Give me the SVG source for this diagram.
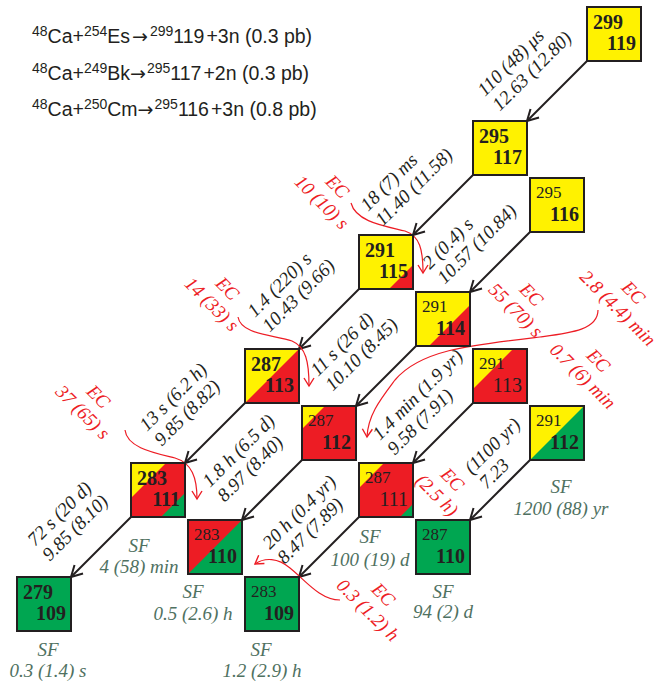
<svg xmlns="http://www.w3.org/2000/svg" width="659" height="683" viewBox="0 0 659 683">
<style>
.bx{stroke:#231f20;stroke-width:2;fill:none}
.y{fill:#fff200}.r{fill:#ed1c24}.g{fill:#00a651}
.nb{font-family:"Liberation Serif","Times New Roman",serif;font-weight:bold;font-size:20px;fill:#231f20}
.nn{font-family:"Liberation Serif","Times New Roman",serif;font-size:17px;fill:#231f20}
.nn2{font-family:"Liberation Serif","Times New Roman",serif;font-size:20px;fill:#231f20}
.al{stroke:#231f20;stroke-width:2;fill:none;marker-end:url(#ah)}
.ec{stroke:#ed1c24;stroke-width:1.2;fill:none;marker-end:url(#ahr)}
.lab{font-family:"Liberation Serif","Times New Roman",serif;font-style:italic;font-size:19px;fill:#231f20}
.ecl{font-family:"Liberation Serif","Times New Roman",serif;font-style:italic;font-size:19px;fill:#ed1c24;text-anchor:middle}
.sf{font-family:"Liberation Serif","Times New Roman",serif;font-style:italic;font-size:19px;fill:#4f7161;text-anchor:middle}
.rx{font-family:"Liberation Sans",Arial,sans-serif;font-size:19.5px;fill:#231f20}
.sp{font-size:14px}
.ar{font-family:"DejaVu Sans",sans-serif;font-size:19px}
</style>
<defs>
<marker id="ah" markerUnits="userSpaceOnUse" markerWidth="16" markerHeight="16" refX="12" refY="7" orient="auto" overflow="visible">
<path d="M1,1 L12,7 L1,13" fill="none" stroke="#231f20" stroke-width="2"/>
</marker>
<marker id="ahr" markerUnits="userSpaceOnUse" markerWidth="12" markerHeight="12" refX="9" refY="5" orient="auto" overflow="visible">
<path d="M1,0 L9,5 L1,10" fill="none" stroke="#ed1c24" stroke-width="1.4"/>
</marker>
</defs>

<g id="reactions" class="rx">
<text x="32" y="43"><tspan class="sp" dy="-7">48</tspan><tspan dy="7">Ca+</tspan><tspan class="sp" dy="-7">254</tspan><tspan dy="7">Es</tspan><tspan class="ar" dx="2">→</tspan><tspan class="sp" dx="2" dy="-7">299</tspan><tspan dy="7">119</tspan><tspan dx="2">+3n (0.3 pb)</tspan></text>
<text x="32" y="80"><tspan class="sp" dy="-7">48</tspan><tspan dy="7">Ca+</tspan><tspan class="sp" dy="-7">249</tspan><tspan dy="7">Bk</tspan><tspan class="ar">→</tspan><tspan class="sp" dx="1" dy="-7">295</tspan><tspan dy="7">117</tspan><tspan dx="2">+2n (0.3 pb)</tspan></text>
<text x="32" y="116"><tspan class="sp" dy="-7">48</tspan><tspan dy="7">Ca+</tspan><tspan class="sp" dy="-7">250</tspan><tspan dy="7">Cm</tspan><tspan class="ar">→</tspan><tspan class="sp" dx="1" dy="-7">295</tspan><tspan dy="7">116</tspan><tspan dx="2">+3n (0.8 pb)</tspan></text>
</g>

<g id="connectors">
<path class="al" d="M587,61 L527,121"/>
<path class="al" d="M473,175 L413,235"/>
<path class="al" d="M359,289 L299,349"/>
<path class="al" d="M245,403 L185,463"/>
<path class="al" d="M131,517 L71,577"/>
<path class="al" d="M530,232 L470,292"/>
<path class="al" d="M416,346 L356,406"/>
<path class="al" d="M302,460 L242,520"/>
<path class="al" d="M473,403 L413,463"/>
<path class="al" d="M359,517 L299,577"/>
<path class="al" d="M530,460 L470,520"/>
<path class="ec" d="M351,203 C356,222 385,226 405,231 C420,236 423,250 423,273"/>
<path class="ec" d="M238,317 C241,335 275,335 292,341 C306,347 309,362 309,386"/>
<path class="ec" d="M125,430 C127,448 155,453 175,458 C192,463 197,478 197,499"/>
<path class="ec" d="M598,310 C598,330 570,333 540,337 C470,345 420,350 395,380 C380,400 368,415 367,437"/>
<path class="ec" d="M340,600 C320,600 305,580 290,568 C278,558 265,557 255,564"/>
</g>

<g id="n299-119">
<rect class="y" x="587" y="7" width="54" height="54"/>
<rect class="bx" x="587" y="7" width="54" height="54"/>
<text class="nb" x="593" y="29">299</text>
<text class="nb" x="636" y="50" text-anchor="end">119</text>
</g>
<g id="n295-117">
<rect class="y" x="473" y="121" width="54" height="54"/>
<rect class="bx" x="473" y="121" width="54" height="54"/>
<text class="nb" x="479" y="143">295</text>
<text class="nb" x="522" y="164" text-anchor="end">117</text>
</g>
<g id="n295-116">
<rect class="y" x="530" y="178" width="54" height="54"/>
<rect class="bx" x="530" y="178" width="54" height="54"/>
<text class="nn" x="536" y="198">295</text>
<text class="nb" x="579" y="221" text-anchor="end">116</text>
</g>
<g id="n291-115">
<rect class="y" x="359" y="235" width="54" height="54"/>
<polygon class="r" points="389,289 413,289 413,265"/>
<rect class="bx" x="359" y="235" width="54" height="54"/>
<text class="nb" x="365" y="257">291</text>
<text class="nb" x="408" y="278" text-anchor="end">115</text>
</g>
<g id="n291-114">
<rect class="y" x="416" y="292" width="54" height="54"/>
<polygon class="r" points="429,346 470,346 470,305"/>
<rect class="bx" x="416" y="292" width="54" height="54"/>
<text class="nn" x="422" y="312">291</text>
<text class="nb" x="465" y="335" text-anchor="end">114</text>
</g>
<g id="n287-113">
<rect class="y" x="245" y="349" width="54" height="54"/>
<polygon class="r" points="245,403 299,403 299,349"/>
<rect class="bx" x="245" y="349" width="54" height="54"/>
<text class="nb" x="251" y="371">287</text>
<text class="nb" x="294" y="392" text-anchor="end">113</text>
</g>
<g id="n291-113">
<rect class="r" x="473" y="349" width="54" height="54"/>
<polygon class="y" points="473,349 513,349 473,389"/>
<rect class="bx" x="473" y="349" width="54" height="54"/>
<text class="nn" x="479" y="369">291</text>
<text class="nn2" x="522" y="392" text-anchor="end">113</text>
</g>
<g id="n287-112">
<rect class="r" x="302" y="406" width="54" height="54"/>
<polygon class="y" points="302,406 325,406 302,429"/>
<rect class="bx" x="302" y="406" width="54" height="54"/>
<text class="nn" x="308" y="426">287</text>
<text class="nb" x="351" y="449" text-anchor="end">112</text>
</g>
<g id="n291-112">
<rect class="y" x="530" y="406" width="54" height="54"/>
<polygon class="g" points="530,460 584,460 584,406"/>
<rect class="bx" x="530" y="406" width="54" height="54"/>
<text class="nn" x="536" y="426">291</text>
<text class="nb" x="579" y="449" text-anchor="end">112</text>
</g>
<g id="n283-111">
<rect class="r" x="131" y="463" width="54" height="54"/>
<polygon class="y" points="131,463 166,463 131,498"/>
<polygon class="g" points="161,517 185,517 185,493"/>
<rect class="bx" x="131" y="463" width="54" height="54"/>
<text class="nb" x="137" y="485">283</text>
<text class="nb" x="180" y="506" text-anchor="end">111</text>
</g>
<g id="n287-111">
<rect class="r" x="359" y="463" width="54" height="54"/>
<polygon class="y" points="359,463 384,463 359,488"/>
<polygon class="g" points="400,517 413,517 413,504"/>
<rect class="bx" x="359" y="463" width="54" height="54"/>
<text class="nn" x="365" y="483">287</text>
<text class="nn2" x="408" y="506" text-anchor="end">111</text>
</g>
<g id="n283-110">
<rect class="r" x="188" y="520" width="54" height="54"/>
<polygon class="g" points="188,574 242,574 242,520"/>
<rect class="bx" x="188" y="520" width="54" height="54"/>
<text class="nn" x="194" y="540">283</text>
<text class="nb" x="237" y="563" text-anchor="end">110</text>
</g>
<g id="n287-110">
<rect class="g" x="416" y="520" width="54" height="54"/>
<rect class="bx" x="416" y="520" width="54" height="54"/>
<text class="nn" x="422" y="540">287</text>
<text class="nb" x="465" y="563" text-anchor="end">110</text>
</g>
<g id="n279-109">
<rect class="g" x="17" y="577" width="54" height="54"/>
<rect class="bx" x="17" y="577" width="54" height="54"/>
<text class="nb" x="23" y="599">279</text>
<text class="nb" x="66" y="620" text-anchor="end">109</text>
</g>
<g id="n283-109">
<rect class="g" x="245" y="577" width="54" height="54"/>
<rect class="bx" x="245" y="577" width="54" height="54"/>
<text class="nn" x="251" y="597">283</text>
<text class="nb" x="294" y="620" text-anchor="end">109</text>
</g>

<g id="alpha-labels" class="lab">
<text transform="translate(485,97) rotate(-45)"><tspan x="0" y="0">110 (48) μs</tspan><tspan x="0" y="21">12.63 (12.80)</tspan></text>
<text transform="translate(368,212) rotate(-45)"><tspan x="0" y="0">18 (7) ms</tspan><tspan x="0" y="21">11.40 (11.58)</tspan></text>
<text transform="translate(255,318) rotate(-45)"><tspan x="0" y="0">1.4 (220) s</tspan><tspan x="0" y="21">10.43 (9.66)</tspan></text>
<text transform="translate(147,432) rotate(-45)"><tspan x="0" y="0">13 s (6.2 h)</tspan><tspan x="0" y="21">9.85 (8.82)</tspan></text>
<text transform="translate(35,547) rotate(-45)"><tspan x="0" y="0">72 s (20 d)</tspan><tspan x="0" y="21">9.85 (8.10)</tspan></text>
<text transform="translate(430,270) rotate(-45)"><tspan x="0" y="0">2 (0.4) s</tspan><tspan x="0" y="21">10.57 (10.84)</tspan></text>
<text transform="translate(318,377) rotate(-45)"><tspan x="0" y="0">11 s (26 d)</tspan><tspan x="0" y="21">10.10 (8.45)</tspan></text>
<text transform="translate(210,488) rotate(-45)"><tspan x="0" y="0">1.8 h (6.5 d)</tspan><tspan x="0" y="21">8.97 (8.40)</tspan></text>
<text transform="translate(380,441) rotate(-45)"><tspan x="0" y="0">1.4 min (1.9 yr)</tspan><tspan x="0" y="21">9.58 (7.91)</tspan></text>
<text transform="translate(270,550) rotate(-45)"><tspan x="0" y="0">20 h (0.4 yr)</tspan><tspan x="0" y="21">8.47 (7.89)</tspan></text>
<text transform="translate(472,475) rotate(-45)"><tspan x="0" y="0">(1100 yr)</tspan><tspan x="0" y="21">7.23</tspan></text>
</g>

<g id="ec-labels" class="ecl">
<text transform="translate(333,191) rotate(45)"><tspan x="0" y="0">EC</tspan><tspan x="0" y="22">10 (10) s</tspan></text>
<text transform="translate(223,293) rotate(45)"><tspan x="0" y="0">EC</tspan><tspan x="0" y="22">14 (33) s</tspan></text>
<text transform="translate(94,401) rotate(45)"><tspan x="0" y="0">EC</tspan><tspan x="0" y="22">37 (65) s</tspan></text>
<text transform="translate(527,299) rotate(45)"><tspan x="0" y="0">EC</tspan><tspan x="0" y="22">55 (70) s</tspan></text>
<text transform="translate(629,297) rotate(45)"><tspan x="0" y="0">EC</tspan><tspan x="0" y="22">2.8 (4.4) min</tspan></text>
<text transform="translate(594,365) rotate(45)"><tspan x="0" y="0">EC</tspan><tspan x="0" y="22">0.7 (6) min</tspan></text>
<text transform="translate(448,484) rotate(45)"><tspan x="0" y="0">EC</tspan><tspan x="0" y="22">(2.5 h)</tspan></text>
<text transform="translate(379,599) rotate(45)"><tspan x="0" y="0">EC</tspan><tspan x="0" y="22">0.3 (1.2) h</tspan></text>
</g>

<g id="sf-labels" class="sf">
<text x="139" y="552">SF</text><text x="139" y="573">4 (58) min</text>
<text x="193" y="598">SF</text><text x="193" y="620">0.5 (2.6) h</text>
<text x="48" y="656">SF</text><text x="48" y="677">0.3 (1.4) s</text>
<text x="261" y="656">SF</text><text x="262" y="677">1.2 (2.9) h</text>
<text x="370" y="543">SF</text><text x="370" y="566">100 (19) d</text>
<text x="443" y="598">SF</text><text x="443" y="618">94 (2) d</text>
<text x="561" y="493">SF</text><text x="561" y="515">1200 (88) yr</text>
</g>
</svg>
